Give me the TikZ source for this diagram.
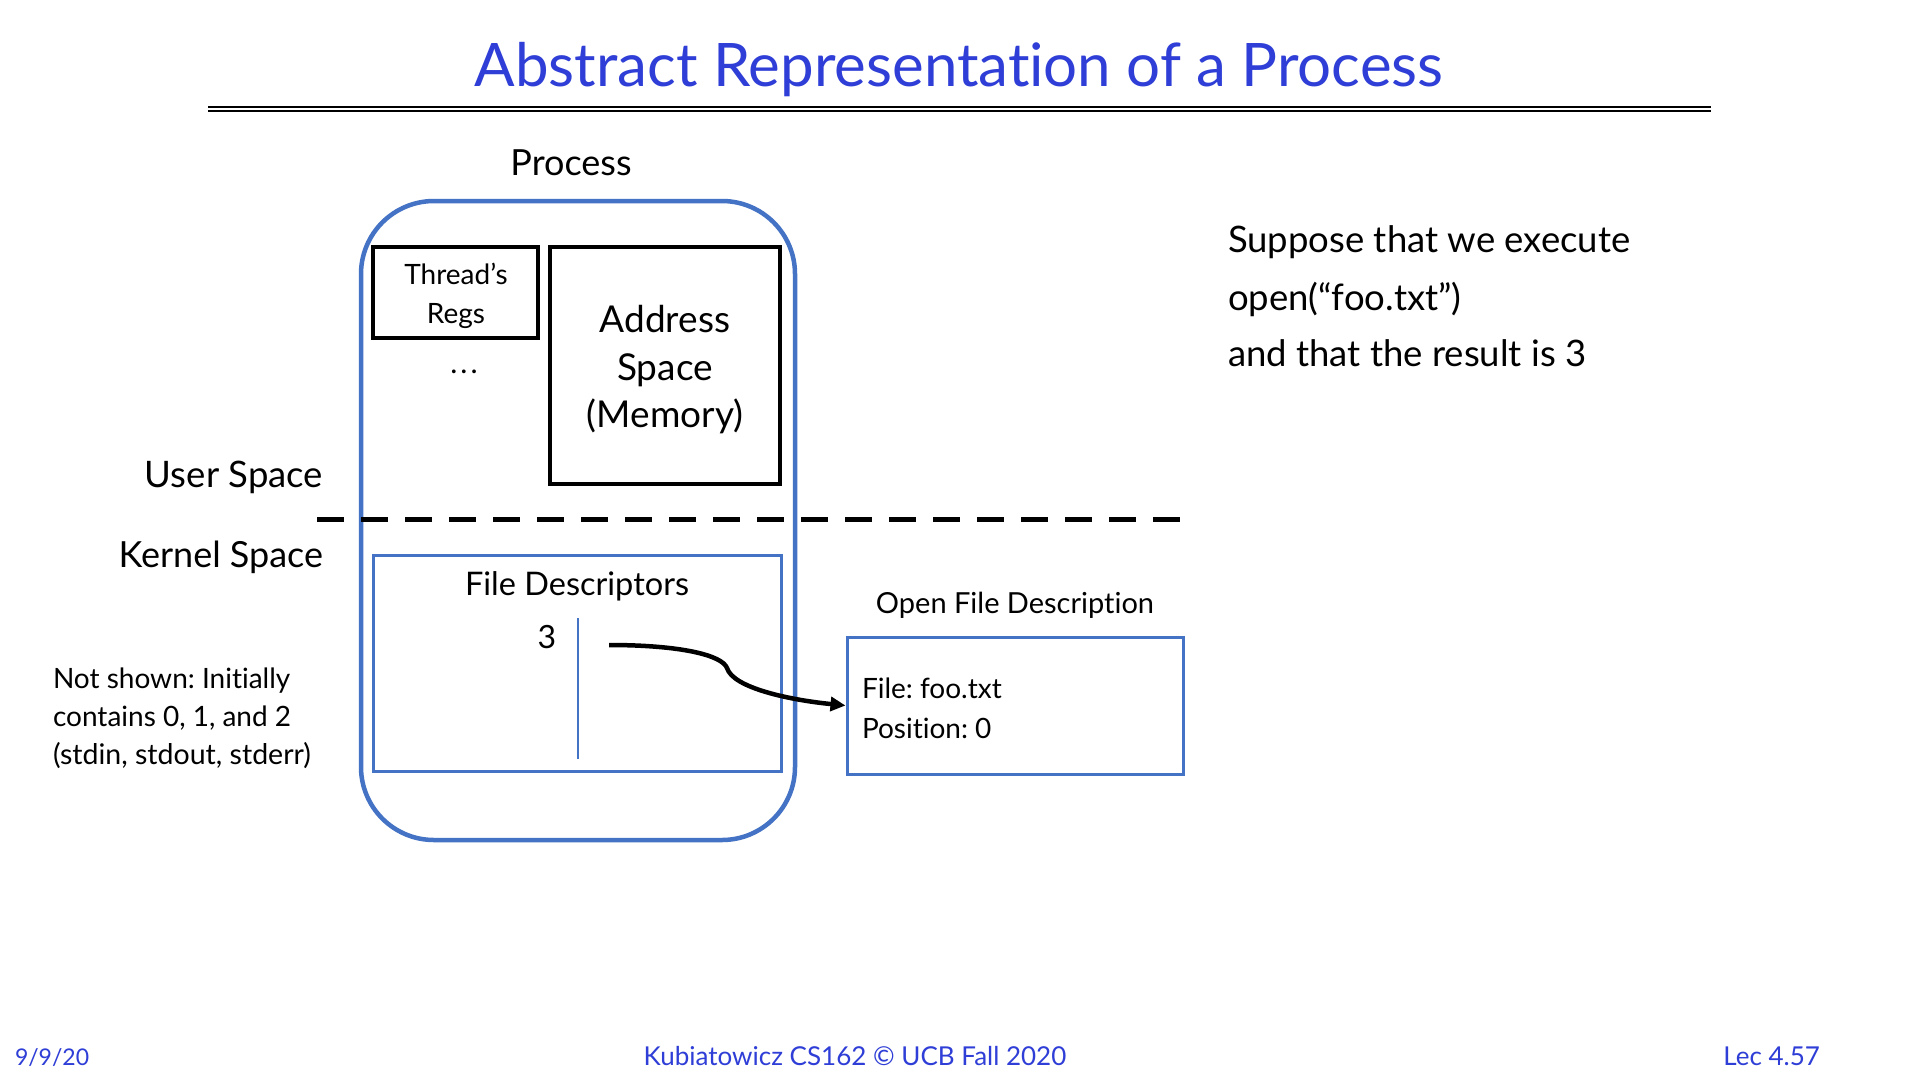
\documentclass[tikz,border=0pt]{standalone}
\usepackage{fontspec}
\setmainfont{Lato}[Ligatures=NoCommon]
\usetikzlibrary{arrows.meta}
\definecolor{titleblue}{RGB}{46,62,214}
\definecolor{boxblue}{RGB}{68,114,196}
\newcommand{\fs}[1]{\fontsize{#1}{#1}\selectfont}
\frenchspacing
\begin{document}
\begin{tikzpicture}[x=1pt,y=-1pt,
  txt/.style={inner sep=0pt, outer sep=0pt, anchor=base},
  txtl/.style={txt, anchor=base west},
  txtr/.style={txt, anchor=base east},
  blackbox/.style={draw=black, line width=3.5pt, inner sep=0pt},
  bluebox/.style={draw=boxblue, line width=3pt, inner sep=0pt},
  link/.style={line width=4.5pt, -{Triangle[length=15pt,width=14pt]}}]
\useasboundingbox[fill=white] (0,0) rectangle (1920,1080);

% title and rule
\node[txt, text=titleblue] (title) at (959,86) {\fs{60}Abstract Representation of a Process};
\coordinate (ruleL) at (208,107);
\coordinate (ruleR) at (1711,107);
\draw[line width=2pt] (ruleL) -- (ruleR);
\draw[line width=2pt] ([yshift=-4pt]ruleL) -- ([yshift=-4pt]ruleR);

% process container
\node[txt] (proclabel) at (571,175) {\fs{36}Process};
\node[draw=boxblue, line width=4.5pt, rounded corners=73pt,
      minimum width=434pt, minimum height=639pt] (proc) at (578,520.5) {};

% user-space contents
\node[blackbox, minimum width=165pt, minimum height=91pt] (regs) at (455.5,292.5) {};
\node[txt] (regs1) at (456,284) {\fs{28}Thread’s};
\node[txt] (regs2) at (456,323) {\fs{28}Regs};
\node[txt] (dots) at (464,373) {\fs{30}.\hspace{3pt}.\hspace{3pt}.};
\node[blackbox, minimum width=230pt, minimum height=237pt] (mem) at (665,365.5) {};
\node[txt] (mem1) at (665,332) {\fs{37}Address};
\node[txt] (mem2) at (665,380) {\fs{37}Space};
\node[txt] (mem3) at (665,427) {\fs{37}(Memory)};

% user / kernel boundary
\node[txtr] (user) at (323,487) {\fs{36.5}User Space};
\node[txtr] (kernel) at (323,567) {\fs{36}Kernel Space};
\coordinate (sepL) at (317,519);
\coordinate (sepR) at (1182,519);
\draw[line width=5pt, dash pattern=on 27pt off 17pt] (sepL) -- (sepR);

% file descriptor table
\node[bluebox, minimum width=408pt, minimum height=216pt] (fd) at (577,663) {};
\node[txt] (fdlabel) at (577,595) {\fs{32.5}File Descriptors};
\node[txt] (fd3) at (547,648) {\fs{32}3};
\coordinate (colTop) at (578,618);
\coordinate (colBot) at (578,759);
\draw[boxblue, line width=2.5pt] (colTop) -- (colBot);

% open file description
\node[txt] (ofdlabel) at (1015,613) {\fs{29}Open File Description};
\node[bluebox, minimum width=336pt, minimum height=137pt] (ofd) at (1015,705.5) {};
\node[txtl] (ofd1) at (862,698) {\fs{28}File: foo.txt};
\node[txtl] (ofd2) at (862,738) {\fs{28}Position: 0};

% pointer from fd 3 to its open file description
\coordinate (ptr) at (609,645);
\draw[link] (ptr) .. controls (680,645) and (722,655) .. (727,668)
  .. controls (733,688) and (790,700) .. (ofd.west);

% side notes
\node[txtl] (note1) at (53,688) {\fs{28}Not shown: Initially};
\node[txtl] (note2) at (53,726) {\fs{28}contains 0, 1, and 2};
\node[txtl] (note3) at (53,764) {\fs{28.5}(stdin, stdout, stderr)};
\node[txtl] (sup1) at (1228,252) {\fs{36.5}Suppose that we execute};
\node[txtl] (sup2) at (1228,310) {\fs{36.5}open(“foo.txt”)};
\node[txtl] (sup3) at (1228,366) {\fs{36.5}and that the result is 3};

% footer
\node[txtl, text=titleblue] (date) at (15,1065) {\fs{23}9/9/20};
\node[txt, text=titleblue] (credit) at (855,1065) {\fs{26}Kubiatowicz CS162 © UCB Fall 2020};
\node[txtr, text=titleblue] (lec) at (1820,1065) {\fs{26}Lec 4.57};
\end{tikzpicture}
\end{document}
